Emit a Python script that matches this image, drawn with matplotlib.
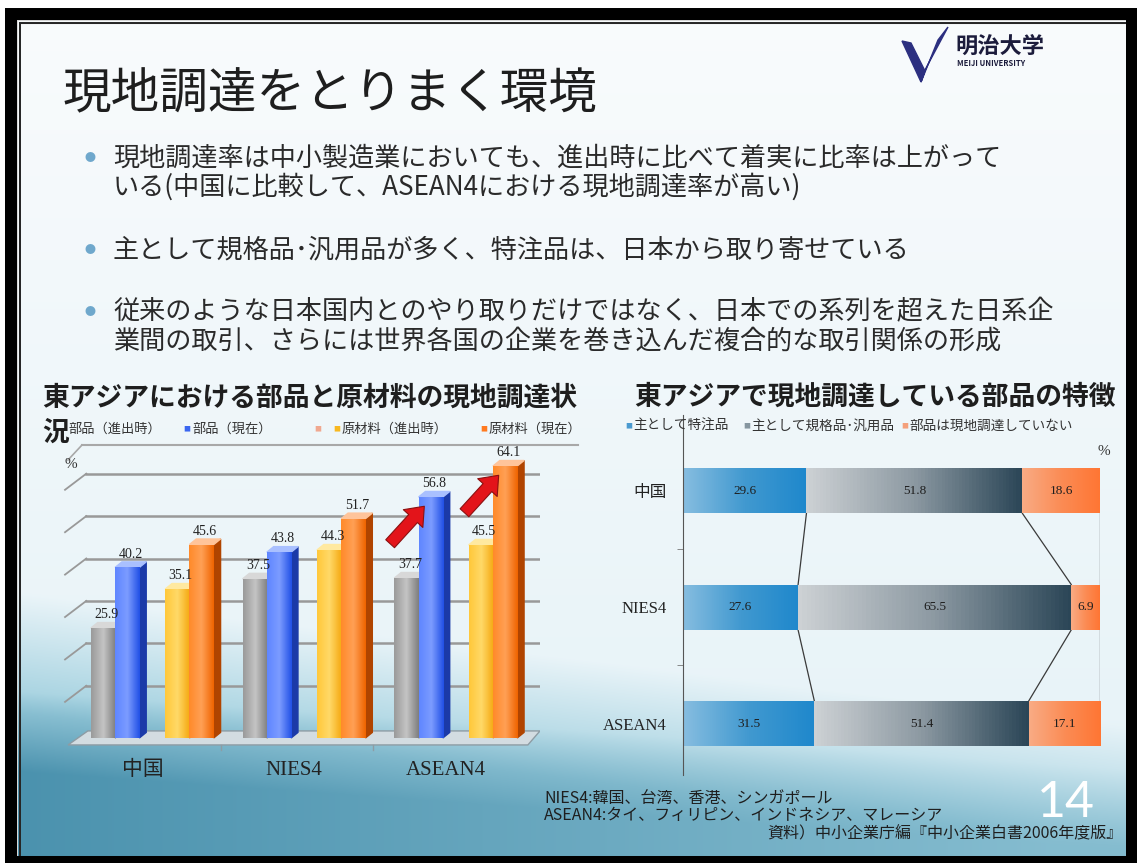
import numpy as np
import matplotlib
matplotlib.use('Agg')
import matplotlib.pyplot as plt
from matplotlib.colors import LinearSegmentedColormap
from matplotlib.patches import Rectangle, Polygon

plt.rcParams['font.family'] = ['Noto Sans CJK JP', 'DejaVu Sans']
SERIF = ['Liberation Serif', 'Noto Sans CJK JP']

# ---- data ----
regions = ['中国', 'NIES4', 'ASEAN4']
parts_entry = [25.9, 37.5, 37.7]
parts_now = [40.2, 43.8, 56.8]
mat_entry = [35.1, 44.3, 45.5]
mat_now = [45.6, 51.7, 64.1]
left_legend = ['部品（進出時）', '部品（現在）', '原材料（進出時）', '原材料（現在）']

special = [29.6, 27.6, 31.5]
standard = [51.8, 65.5, 51.4]
not_local = [18.6, 6.9, 17.1]
right_legend = ['主として特注品', '主として規格品･汎用品', '部品は現地調達していない']

W, H = 1137, 863
fig = plt.figure(figsize=(W / 100, H / 100), dpi=100)


def fx(px):
    return px / W


def fy(py):
    return 1 - py / H


def axrect(x0, y0, x1, y1):
    return [fx(x0), fy(y1), (x1 - x0) / W, (y1 - y0) / H]


# ---- slide background + frame ----
yy, xx = np.mgrid[0:H, 0:W]
t = np.clip((yy - 25) / 800, 0, 1)[..., None]
img = np.array([0.975, 0.985, 0.99]) * (1 - t) + np.array([0.90, 0.95, 0.97]) * t
w1 = np.clip((yy - (590 + 0.12 * xx)) / 120, 0, 1)[..., None]
img = img * (1 - w1) + np.array([0.62, 0.81, 0.87]) * w1
w2 = (np.clip((yy - (690 + 0.07 * xx)) / 80, 0, 1) * np.clip(1 - xx / 1500, 0.3, 1))[..., None]
img = img * (1 - w2) + np.array([0.29, 0.57, 0.68]) * w2
black = (xx < 17) | (yy < 21) | (xx >= 1126) | (yy >= 856)
img[black] = 0
img[(xx < 5) | (yy < 9)] = 1
img[(xx == 17) & (yy >= 21) & (yy < 856)] = 0.85
img[(yy == 21) & (xx >= 17) & (xx < 1126)] = 0.85
img[(xx >= 19) & (xx < 21) & (yy >= 23) & (yy < 856)] = 0.15
img[(yy >= 23) & (yy < 25) & (xx >= 19) & (xx < 1126)] = 0.15

bg = fig.add_axes([0, 0, 1, 1])
bg.imshow(img, extent=(0, W, H, 0), aspect='auto', interpolation='bilinear')
bg.set_xlim(0, W)
bg.set_ylim(H, 0)
bg.axis('off')

# ---- slide text ----
fig.text(fx(62), fy(95), '現地調達をとりまく環境', fontsize=35, color='#1e1e1e', va='center')

bullets = [
    (158, '現地調達率は中小製造業においても、進出時に比べて着実に比率は上がって', True),
    (187, 'いる(中国に比較して、ASEAN4における現地調達率が高い)', False),
    (250, '主として規格品･汎用品が多く、特注品は、日本から取り寄せている', True),
    (312, '従来のような日本国内とのやり取りだけではなく、日本での系列を超えた日系企', True),
    (341, '業間の取引、さらには世界各国の企業を巻き込んだ複合的な取引関係の形成', False),
]
for y, line, dot in bullets:
    fig.text(fx(113), fy(y), line, fontsize=18.8, color='#2a2a2a', va='center')
    if dot:
        fig.text(fx(90), fy(y), '●', fontsize=8, color='#6fa8cc', va='center', ha='center')

# logo
fig.patches.append(Polygon([(fx(902), fy(41)), (fx(911), fy(43)), (fx(925), fy(71)), (fx(921), fy(82))],
                           closed=True, transform=fig.transFigure, color='#2c2f80'))
fig.patches.append(Polygon([(fx(921), fy(82)), (fx(925), fy(70)), (fx(948), fy(27)), (fx(938), fy(40))],
                           closed=True, transform=fig.transFigure, color='#2c2f80'))
fig.text(fx(955), fy(46), '明治大学', fontsize=16, fontweight='bold', color='#1c1c3c', va='center')
fig.text(fx(957), fy(63), 'MEIJI UNIVERSITY', fontsize=5.5, fontweight='bold', color='#1c1c3c', va='center')

# ---- left chart: 3D-looking columns ----
fig.text(fx(42), fy(398), '東アジアにおける部品と原材料の現地調達状', fontsize=19.3,
         fontweight='bold', color='#1e1e1e', va='center')
fig.text(fx(42), fy(433), '況', fontsize=19.3, fontweight='bold', color='#1e1e1e', va='center')
fig.lines.append(plt.Line2D([fx(82), fx(578)], [fy(445), fy(445)], transform=fig.transFigure,
                            color='#a8a8a8', lw=1.5))
fig.lines.append(plt.Line2D([fx(82), fx(68)], [fy(445), fy(460)], transform=fig.transFigure,
                            color='#a8a8a8', lw=1.2))

series = [parts_entry, parts_now, mat_entry, mat_now]
faces = [['#9a9a9a', '#c4c4c4', '#7e7e7e'],
         ['#5f86ff', '#7c9cff', '#2150e6'],
         ['#ffc83a', '#ffd968', '#f5a810'],
         ['#ff8a2a', '#ffa055', '#f06400']]
sides = ['#5c5c5c', '#1b3aa8', '#c07c00', '#b04400']
tops = ['#d8d8d8', '#a9c0ff', '#ffe9a0', '#ffc49a']
legend_marker = ['#8a8a8a', '#3a66f0', '#f8b820', '#ff7a20']
offsets = [-0.33, -0.17, 0.16, 0.32]
bw = 0.16
dx, dy = 0.045, 1.3

ax = fig.add_axes(axrect(62, 455, 540, 760))
ax.patch.set_alpha(0)

# floor and back-wall grid
ax.add_patch(Polygon([(-0.56, -1.65), (2.47, -1.65), (2.55, 1.65), (-0.43, 1.65)],
                     closed=True, fc='#d3dce1', ec='#8e9ca4', lw=1.0, zorder=1))
for v in range(10, 61, 10):
    ax.plot([-0.44, 2.55], [v + 2.3, v + 2.3], color='#999999', lw=1.8, zorder=1)
    ax.plot([-0.58, -0.44], [v + 2.3 - 3.8, v + 2.3], color='#999999', lw=1.3, zorder=1)
for b in [0.45, 1.45]:
    ax.plot([b, b], [-1.65, -2.8], color='#8e9ca4', lw=1.0, zorder=1)

for si, vals in enumerate(series):
    cmap = LinearSegmentedColormap.from_list('c%d' % si, faces[si])
    for gi, h in enumerate(vals):
        x = gi + offsets[si]
        z = 3 + si
        ax.fill([x + bw / 2, x + bw / 2 + dx, x + bw / 2 + dx, x + bw / 2],
                [0, dy, h + dy, h], color=sides[si], zorder=z)
        ax.fill([x - bw / 2, x + bw / 2, x + bw / 2 + dx, x - bw / 2 + dx],
                [h, h, h + dy, h + dy], color=tops[si], zorder=z)
        rect = ax.bar(x, h, width=bw, color=faces[si][0], zorder=z)[0]
        im = ax.imshow(np.linspace(0, 1, 64).reshape(1, -1), cmap=cmap,
                       extent=(x - bw / 2, x + bw / 2, 0, h), aspect='auto',
                       origin='lower', zorder=z + 0.1)
        im.set_clip_path(rect)
        ax.text(x + dx / 2, h + dy + 0.3, f'{h:.1f}', ha='center', va='bottom',
                fontsize=10, family=SERIF, color='#222222', zorder=10)

for gi, name in enumerate(regions):
    ax.text(gi - 0.07, -7.6, name, ha='center', va='center', fontsize=15,
            family=SERIF, color='#222222', clip_on=False)

# red arrows toward ASEAN4 current values
for si in [1, 3]:
    x = 2 + offsets[si]
    h = series[si][2]
    ax.annotate('', xy=(x - 0.03, h - 1.7), xytext=(x - 0.28, h - 11.5),
                arrowprops=dict(arrowstyle='simple,head_width=1.9,head_length=1.2,tail_width=0.85',
                                fc='#e3141a', ec='#8a1010', lw=0.8), zorder=12)

ax.set_xlim(-0.6, 2.55)
ax.set_ylim(-5.2, 66.7)
ax.axis('off')
fig.text(fx(71), fy(464), '%', fontsize=11, family=SERIF, color='#333333', va='center', ha='center')

legend_x = [68, 187, 337, 484]
for i, lab in enumerate(left_legend):
    if i > 0:
        fig.text(fx(legend_x[i]), fy(429), '■', fontsize=5, color=legend_marker[i], va='center', ha='center')
    fig.text(fx(legend_x[i] + (0 if i == 0 else 5)), fy(429), lab, fontsize=9.5, color='#333333', va='center')
fig.text(fx(318), fy(429), '■', fontsize=5, color='#f0a890', va='center', ha='center')

# ---- right chart: stacked horizontal bars ----
fig.text(fx(634), fy(397), '東アジアで現地調達している部品の特徴', fontsize=19.3,
         fontweight='bold', color='#1e1e1e', va='center')
rcolors = [['#86bde0', '#4199d0', '#1f88cc'],
           ['#cdd1d4', '#8c99a2', '#2b4657'],
           ['#f9ab84', '#fb8c55', '#ff7634']]
rmarker = ['#4a9ad0', '#8696a0', '#f4a07c']
leg_x = [629, 747, 905]
for i, lab in enumerate(right_legend):
    fig.text(fx(leg_x[i]), fy(426), '■', fontsize=5, color=rmarker[i], va='center', ha='center')
    fig.text(fx(leg_x[i] + 4), fy(426), lab, fontsize=9.8, color='#333333', va='center')

ax2 = fig.add_axes(axrect(683, 415, 1100, 775))
ax2.patch.set_alpha(0)
ypos = np.arange(len(regions))
bh = 0.39
segments = [special, standard, not_local]
left = np.zeros(len(regions))
for si, vals in enumerate(segments):
    cmap = LinearSegmentedColormap.from_list('r%d' % si, rcolors[si])
    bars = ax2.barh(ypos, vals, left=left, height=bh, color=rcolors[si][1], zorder=2)
    for bi, rect in enumerate(bars):
        im = ax2.imshow(np.linspace(0, 1, 64).reshape(1, -1), cmap=cmap,
                        extent=(left[bi], left[bi] + vals[bi], ypos[bi] + bh / 2, ypos[bi] - bh / 2),
                        aspect='auto', zorder=2.1)
        im.set_clip_path(rect)
        ax2.text(left[bi] + vals[bi] / 2, ypos[bi], f'{vals[bi]:.1f}', ha='center', va='center',
                 fontsize=9.5, family=SERIF, color='#1e1e1e', zorder=5)
    left = left + np.array(vals)

# series lines between stacked boundaries
bounds = [np.array(special), np.array(special) + np.array(standard), left]
for b in bounds:
    for i in range(len(regions) - 1):
        ax2.plot([b[i], b[i + 1]], [ypos[i] + bh / 2, ypos[i + 1] - bh / 2],
                 color='#3a3a3a', lw=0.9, zorder=1)

ax2.set_xlim(0, 100)
ax2.set_ylim(2.44, -0.65)
ax2.set_yticks(ypos)
ax2.set_yticklabels(regions, family=SERIF, fontsize=12, color='#222222')
ax2.set_yticks([0.5, 1.5], minor=True)
ax2.tick_params(axis='y', which='major', length=0, pad=12)
ax2.tick_params(axis='y', which='minor', length=4, color='#777777')
ax2.set_xticks([])
for s in ['top', 'right', 'bottom']:
    ax2.spines[s].set_visible(False)
ax2.spines['left'].set_color('#555555')
fig.text(fx(1104), fy(451), '%', fontsize=11, family=SERIF, color='#333333', va='center', ha='center')

# ---- footnotes ----
fig.text(fx(544), fy(798), 'NIES4:韓国、台湾、香港、シンガポール', fontsize=11.5, color='#1e1e1e', va='center')
fig.text(fx(544), fy(815), 'ASEAN4:タイ、フィリピン、インドネシア、マレーシア', fontsize=11.5, color='#1e1e1e', va='center')
fig.text(fx(1123), fy(834), '資料）中小企業庁編『中小企業白書2006年度版』', fontsize=11.5, color='#1e1e1e',
         va='center', ha='right')
fig.text(fx(1066), fy(803), '14', fontsize=36, color='white', va='center', ha='center',
         family=['Lato', 'DejaVu Sans'])

fig.savefig('out.png', dpi=100)
